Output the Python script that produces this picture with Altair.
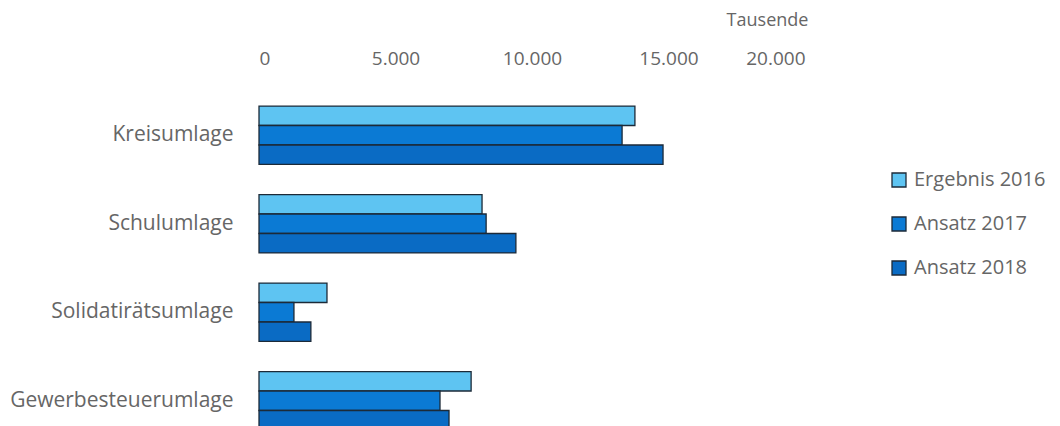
import altair as alt
import pandas as pd

categories = ["Kreisumlage", "Schulumlage", "Solidatirätsumlage", "Gewerbesteuerumlage"]
series = ["Ergebnis 2016", "Ansatz 2017", "Ansatz 2018"]
ergebnis_2016 = [13770, 8170, 2490, 7770]
ansatz_2017 = [13300, 8320, 1280, 6630]
ansatz_2018 = [14800, 9410, 1900, 6960]
tick_values = [0, 5000, 10000, 15000, 20000]
colors = ["#5ec4f2", "#0b7ad4", "#0a6bc4"]

rows = []
for name, vals in zip(series, [ergebnis_2016, ansatz_2017, ansatz_2018]):
    for c, v in zip(categories, vals):
        rows.append({"kategorie": c, "serie": name, "wert": v})
df = pd.DataFrame(rows)

FONT = "Open Sans"
GREY = "#666666"

chart = alt.Chart(df).mark_bar(stroke="#1c2a38", strokeWidth=1.3).encode(
    x=alt.X(
        "wert:Q",
        scale=alt.Scale(domain=[0, 20000], range=[0, 546], nice=False),
        axis=alt.Axis(
            orient="top",
            values=tick_values,
            labelExpr="replace(format(datum.value, ',.0f'), ',', '.')",
            grid=False,
            domain=False,
            ticks=False,
            labelPadding=23,
            labelFont=FONT,
            labelFontSize=19,
            labelColor=GREY,
            title="Tausende",
            titleFont=FONT,
            titleFontSize=18,
            titleFontWeight="normal",
            titleColor=GREY,
            titleX=508,
            titleY=-71,
            titleAlign="center",
            titleBaseline="middle",
        ),
    ),
    y=alt.Y(
        "kategorie:N",
        sort=categories,
        scale=alt.Scale(range=[0, 354], paddingInner=0.34, paddingOuter=0.17),
        axis=alt.Axis(
            title=None,
            domain=False,
            ticks=False,
            grid=False,
            labelPadding=26,
            labelLimit=400,
            labelFont=FONT,
            labelFontSize=21,
            labelColor=GREY,
        ),
    ),
    yOffset=alt.YOffset("serie:N", sort=series),
    color=alt.Color(
        "serie:N",
        sort=series,
        scale=alt.Scale(domain=series, range=colors),
        legend=alt.Legend(
            title=None,
            orient="none",
            legendX=630,
            legendY=79,
            symbolType="square",
            symbolSize=196,
            symbolStrokeColor="#1c2a38",
            symbolStrokeWidth=1.3,
            symbolOpacity=1,
            labelFont=FONT,
            labelFontSize=20,
            labelColor=GREY,
            labelLimit=300,
            rowPadding=24,
            labelOffset=5,
        ),
    ),
).properties(
    width=546,
    height=335,
    autosize=alt.AutoSizeParams(type="none"),
    padding={"left": 259, "top": 91, "right": 255, "bottom": 0},
).configure_view(stroke=None)

chart.save("out.html", embed_options={"renderer": "svg", "actions": False})
